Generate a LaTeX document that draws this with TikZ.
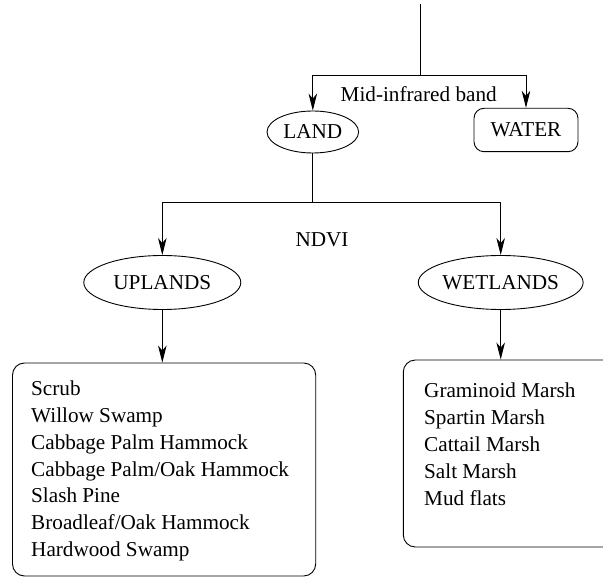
\documentclass[tikz,border=0pt]{standalone}
\usepackage{fontspec}
\setmainfont{Liberation Serif}
\usetikzlibrary{arrows.meta,shapes.geometric}
\begin{document}
\begin{tikzpicture}[x=1pt,y=-1pt,
  every node/.style={font=\fontsize{21.2}{26.7}\selectfont},
  ln/.style={line width=0.9pt},
  arr/.style={line width=0.9pt,-{Stealth[length=17pt,width=8.5pt,inset=5pt]}},
  oval/.style={draw,ellipse,line width=0.9pt,inner sep=0pt},
  rbox/.style={draw,rounded corners=12pt,line width=0.9pt,inner sep=0pt},
  lbl/.style={inner sep=0pt,anchor=base},
  item/.style={inner sep=0pt,anchor=base west}]
\useasboundingbox (0,0) rectangle (603,577);
% top level
\coordinate (top) at (420,4);
\coordinate (j1) at (420,75.7);
\node[oval,minimum width=91.6pt,minimum height=42pt] (land) at (312.8,132) {LAND};
\node[rbox,rounded corners=10pt,minimum width=104pt,minimum height=43.4pt] (water) at (526,130) {WATER};
\draw[ln] (top) -- (j1);
\draw[arr] (j1) -| (land);
\draw[arr] (j1) -| (water);
\node[lbl] (mir) at (418.7,101.7) {Mid-infrared band};
% second level
\coordinate (j2) at (312.8,202);
\node[oval,minimum width=157pt,minimum height=54pt] (up) at (162.3,282.5) {UPLANDS};
\node[oval,minimum width=157pt,minimum height=54pt] (wet) at (500.7,282.5) {WETLANDS};
\draw[ln] (land) -- (j2);
\draw[arr] (j2) -| (up);
\draw[arr] (j2) -| (wet);
\node[lbl] (ndvi) at (322,246.5) {NDVI};
% boxes
\node[rbox,minimum width=303.2pt,minimum height=213pt] (ubox) at (164.1,469.5) {};
\node[rbox,minimum width=246.7pt,minimum height=187pt] (wbox) at (526.65,453.5) {};
\draw[arr] (up.south) -- (up.south |- ubox.north);
\draw[arr] (wet.south) -- (wet.south |- wbox.north);
\foreach \t [count=\i] in {Scrub,Willow Swamp,Cabbage Palm Hammock,Cabbage Palm/Oak Hammock,Slash Pine,Broadleaf/Oak Hammock,Hardwood Swamp}
  \node[item] (u\i) at (31,396+26.7*\i-26.7) {\t};
\foreach \t [count=\i] in {Graminoid Marsh,Spartin Marsh,Cattail Marsh,Salt Marsh,Mud flats}
  \node[item] (w\i) at (424,398+26.75*\i-26.75) {\t};
\end{tikzpicture}
\end{document}
